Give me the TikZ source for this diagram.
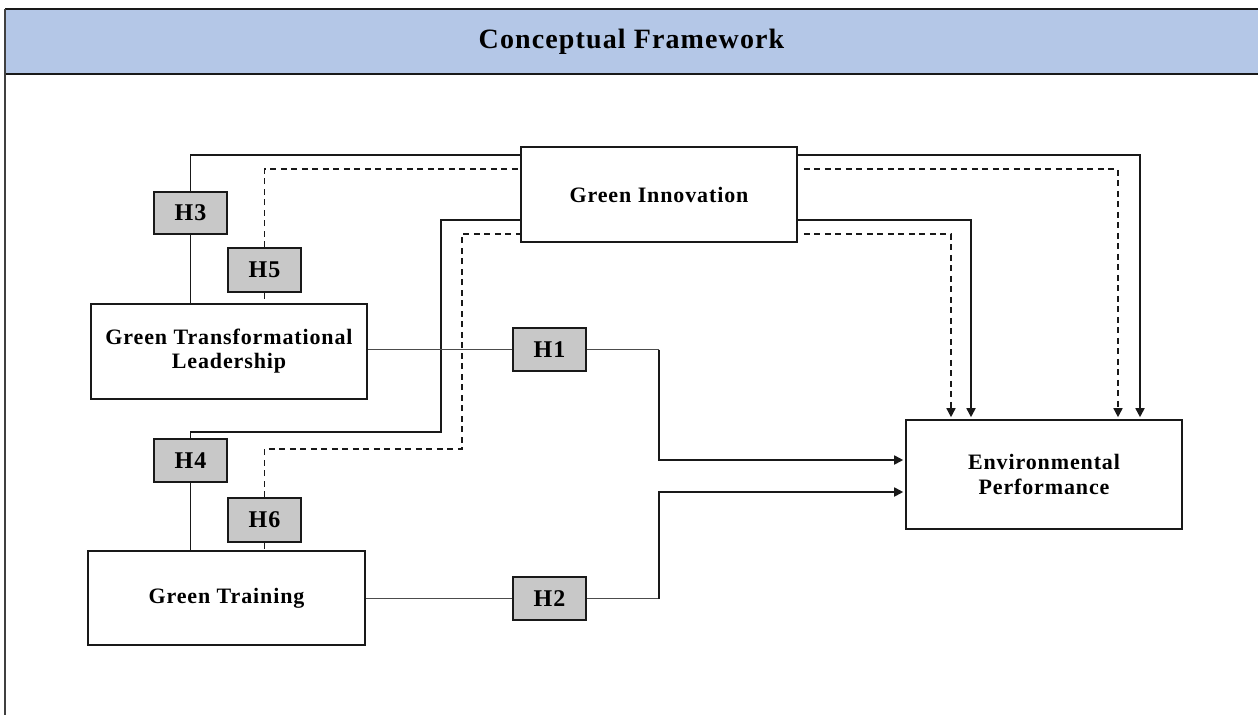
\documentclass[tikz,border=0pt]{standalone}
\usepackage{fontspec}
\setmainfont{Liberation Serif}[LetterSpace=4]
\usetikzlibrary{arrows.meta}
\definecolor{hdr}{RGB}{180,199,231}
\definecolor{hbox}{RGB}{200,200,200}
\definecolor{edge}{RGB}{25,25,25}
\begin{document}
\begin{tikzpicture}[x=1pt,y=-1pt,
 box/.style={draw=edge,line width=1.6pt,fill=white,inner sep=0pt,align=center,font=\fontsize{22}{24}\selectfont\bfseries},
 hyp/.style={draw=edge,line width=1.6pt,fill=hbox,inner sep=0pt,minimum width=73pt,minimum height=43pt,font=\fontsize{24}{26}\selectfont\bfseries},
 link/.style={line width=1.7pt,draw=edge},
 dlink/.style={line width=1.5pt,draw=edge,dash pattern=on 6pt off 4.5pt},
 thinlink/.style={line width=1pt,draw=black!70},
 tip/.style={-{Triangle[length=9pt,width=9pt]},shorten >=2pt},
]
\useasboundingbox (0,0) rectangle (1258,715);
% frame and header
\fill[hdr] (5,9) rectangle (1258,74);
\draw[line width=1.2pt,edge] (5,9) -- (1258,9);
\draw[line width=2.8pt,edge] (5,74) -- (1258,74);
\draw[line width=1.6pt,black!75] (5,9) -- (5,715);
\node[font=\fontsize{28}{30}\selectfont\bfseries] (title) at (631.5,42) {Conceptual Framework};
% boxes
\node[box,minimum width=276pt,minimum height=95pt] (GI) at (659,194.5) {Green Innovation};
\node[box,minimum width=276pt,minimum height=95pt] (GTL) at (229,351.5) {Green Transformational\\Leadership};
\node[box,minimum width=277pt,minimum height=94pt] (GT) at (226.5,598) {Green Training};
\node[box,minimum width=276pt,minimum height=109pt,font=\fontsize{22}{25}\selectfont\bfseries] (EP) at (1044,474.5) {Environmental\\Performance};
% hypothesis boxes
\node[hyp,minimum height=42pt] (H3) at (190.5,213) {H3};
\node[hyp,minimum height=44pt] (H5) at (264.5,270) {H5};
\node[hyp] (H4) at (190.5,460.5) {H4};
\node[hyp,minimum height=44pt] (H6) at (264.5,520) {H6};
\node[hyp] (H1) at (549.5,349.5) {H1};
\node[hyp] (H2) at (549.5,598.5) {H2};
% helper coordinates
\coordinate (y3) at (0,155);
\coordinate (y5) at (0,169);
\coordinate (y4) at (0,220);
\coordinate (y6) at (0,234);
\coordinate (x3) at (1140,0);
\coordinate (x5) at (1118,0);
\coordinate (x4) at (971,0);
\coordinate (x6) at (951,0);
\coordinate (b4) at (441,432);
\coordinate (b6) at (462,449);
\coordinate (b1) at (659,460);
\coordinate (b2) at (659,492);
% H3
\draw[link] (H3.south) -- (H3.south |- GTL.north);
\draw[link] (H3.north) |- (GI.west |- y3);
\draw[link,tip] (GI.east |- y3) -| (x3 |- EP.north);
% H5
\draw[dlink] (H5.south) -- (H5.south |- GTL.north);
\draw[dlink] (H5.north) |- (GI.west |- y5);
\draw[dlink,tip,shorten <=6pt] (GI.east |- y5) -| (x5 |- EP.north);
% H4
\draw[link] (H4.south) -- (H4.south |- GT.north);
\draw[link] (H4.north) |- (b4) |- (GI.west |- y4);
\draw[link,tip] (GI.east |- y4) -| (x4 |- EP.north);
% H6
\draw[dlink] (H6.south) -- (H6.south |- GT.north);
\draw[dlink] (H6.north) |- (b6) |- (GI.west |- y6);
\draw[dlink,tip,shorten <=6pt] (GI.east |- y6) -| (x6 |- EP.north);
% H1
\draw[thinlink] (H1.west -| GTL.east) -- (H1.west);
\draw[thinlink] (H1.east) -- (H1.east -| b1);
\draw[link,tip] (H1.east -| b1) -- (b1) -- (EP.west |- b1);
% H2
\draw[thinlink] (H2.west -| GT.east) -- (H2.west);
\draw[thinlink] (H2.east) -- (H2.east -| b2);
\draw[link,tip] (H2.east -| b2) -- (b2) -- (EP.west |- b2);
\end{tikzpicture}
\end{document}
